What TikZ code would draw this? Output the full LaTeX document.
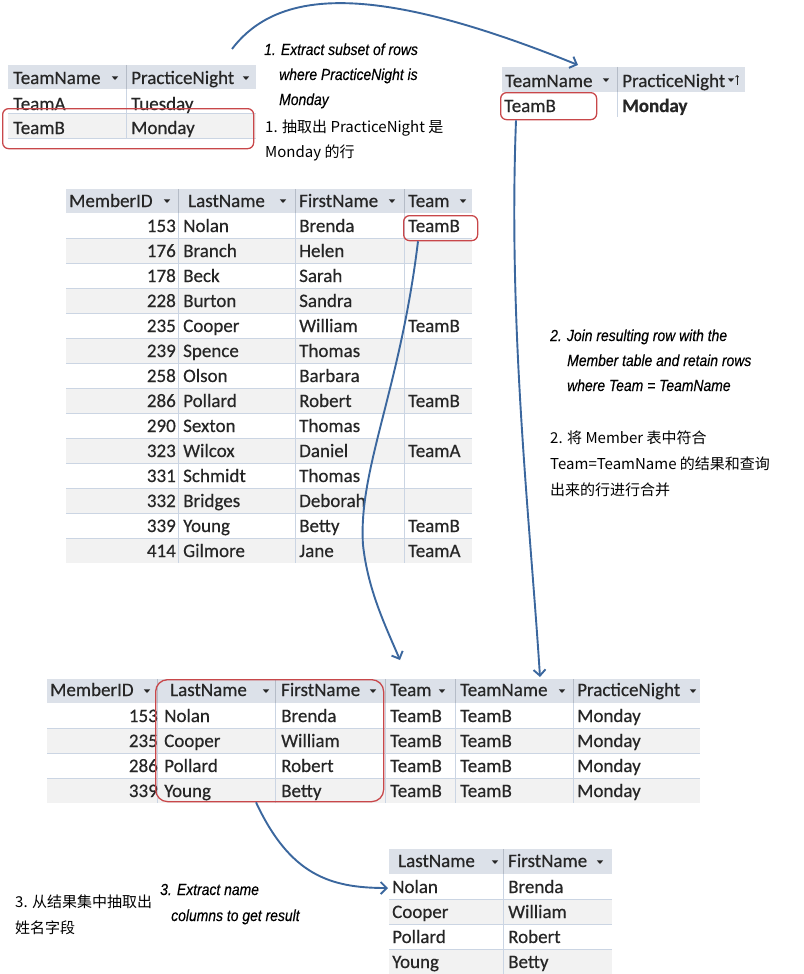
\documentclass[tikz,border=0pt]{standalone}
\usepackage{fontspec}
\setmainfont{Carlito}
\newfontfamily\tabfont[FakeBold=0.45]{Carlito}
\newfontfamily\labfont[FakeStretch=0.87,FakeBold=0.3]{Liberation Sans}
\newfontfamily\cjk{Noto Sans CJK SC}
\usetikzlibrary{arrows.meta}
\definecolor{hdr}{HTML}{DCE1E9}
\definecolor{stripe}{HTML}{F2F2F2}
\definecolor{gridc}{HTML}{CBD5E3}
\definecolor{hsep}{HTML}{B5BCC7}
\definecolor{redc}{HTML}{C8474A}
\definecolor{arrc}{HTML}{3B679E}
\definecolor{txt}{HTML}{262626}
\newcommand\dropmark[2]{\fill[txt] ({#1-3.2},{#2-1.6}) -- ({#1+3.2},{#2-1.6}) -- (#1,{#2+2}) -- cycle;}
\begin{document}
\begin{tikzpicture}[x=1pt,y=-1pt,
  cell/.style={anchor=base west, inner sep=0pt, font=\tabfont\fontsize{19}{22}\selectfont, text=txt},
  numcell/.style={cell, anchor=base east},
  lab/.style={anchor=base west, inner sep=0pt, font=\labfont\itshape\fontsize{16}{19}\selectfont, text=black},
  cjklab/.style={anchor=base west, inner sep=0pt, font=\cjk\fontsize{15}{18}\selectfont, text=black},
  redbox/.style={draw=redc, line width=1.3pt, rounded corners=6pt, inner sep=0pt, anchor=north west},
  arr/.style={draw=arrc, line width=1.9pt, -{Straight Barb[length=6pt,width=12pt]}},
  gl/.style={draw=gridc, line width=1pt},
  hl/.style={draw=hsep, line width=1pt}]
\useasboundingbox (0,0) rectangle (803,974);

% ---------- Table 1 (Team) ----------
\fill[hdr] (8,65) rectangle (256,89);
\fill[stripe] (8,113) rectangle (256,138);
\draw[gl] (8,113) -- (256,113);
\draw[gl] (8,138) -- (256,138);
\draw[gl] (126,89) -- (126,138);
\draw[hl] (126,65) -- (126,89);
\node[cell] (t1h1) at (13,84) {TeamName};
\node[cell] (t1h2) at (131,84) {PracticeNight};
\dropmark{115}{78}
\dropmark{246}{78}
\node[cell] (t1a1) at (13,110) {TeamA};
\node[cell] (t1b1) at (131,110) {Tuesday};
\node[cell] (t1a2) at (13,134) {TeamB};
\node[cell] (t1b2) at (131,134) {Monday};

% ---------- Table 2 (filtered) ----------
\fill[hdr] (502,67) rectangle (745,92);
\draw[hl] (617,67) -- (617,92);
\draw[gl] (617,92) -- (617,117);
\node[cell] (t2h1) at (505,87) {TeamName};
\node[cell] (t2h2) at (622,87) {PracticeNight};
\dropmark{606}{80}
\dropmark{731}{80}
\draw[txt, line width=0.8pt, -{Straight Barb[length=1.5pt,width=3pt]}] (737,85) -- (737,75);
\node[cell] (t2a1) at (504,112) {TeamB};
\node[cell, font=\tabfont\bfseries\fontsize{19}{22}\selectfont] (t2b1) at (622,112) {Monday};

% ---------- Table 3 (Member) ----------
\fill[hdr] (66,189) rectangle (472,213);
\foreach \i in {2,4,...,14} \fill[stripe] (66,{188+25*\i}) rectangle (472,{213+25*\i});
\foreach \k in {1,...,13} \draw[gl] (66,{213+25*\k}) -- (472,{213+25*\k});
\foreach \x in {178,295,404} {\draw[gl] (\x,213) -- (\x,563); \draw[hl] (\x,189) -- (\x,213);}
\node[cell] (t3h1) at (69,207) {MemberID};
\node[cell] (t3h2) at (188,207) {LastName};
\node[cell] (t3h3) at (299,207) {FirstName};
\node[cell] (t3h4) at (408,207) {Team};
\dropmark{167}{201}
\dropmark{283}{201}
\dropmark{392}{201}
\dropmark{463}{201}
\foreach \id/\ln/\fn/\tm [count=\i] in {153/Nolan/Brenda/TeamB, 176/Branch/Helen/{}, 178/Beck/Sarah/{}, 228/Burton/Sandra/{}, 235/Cooper/William/TeamB, 239/Spence/Thomas/{}, 258/Olson/Barbara/{}, 286/Pollard/Robert/TeamB, 290/Sexton/Thomas/{}, 323/Wilcox/Daniel/TeamA, 331/Schmidt/Thomas/{}, 332/Bridges/Deborah/{}, 339/Young/Betty/TeamB, 414/Gilmore/Jane/TeamA} {
  \pgfmathsetmacro\yb{207+25*\i}
  \node[numcell] (t3-\i-a) at (176,\yb) {\id};
  \node[cell] (t3-\i-b) at (183,\yb) {\ln};
  \node[cell] (t3-\i-c) at (299,\yb) {\fn};
  \node[cell] (t3-\i-d) at (408,\yb) {\tm};
}

% ---------- Table 4 (joined) ----------
\fill[hdr] (47,679) rectangle (700,703);
\foreach \i in {2,4} \fill[stripe] (47,{678+25*\i}) rectangle (700,{703+25*\i});
\foreach \k in {1,2,3} \draw[gl] (47,{703+25*\k}) -- (700,{703+25*\k});
\foreach \x in {157,275,385,455,573} {\draw[gl] (\x,703) -- (\x,803); \draw[hl] (\x,679) -- (\x,703);}
\node[cell] (t4h1) at (50,696) {MemberID};
\node[cell] (t4h2) at (170,696) {LastName};
\node[cell] (t4h3) at (281,696) {FirstName};
\node[cell] (t4h4) at (390,696) {Team};
\node[cell] (t4h5) at (460,696) {TeamName};
\node[cell] (t4h6) at (577,696) {PracticeNight};
\dropmark{147}{691}
\dropmark{266}{691}
\dropmark{373}{691}
\dropmark{442}{691}
\dropmark{562}{691}
\dropmark{693}{691}
\foreach \id/\ln/\fn [count=\i] in {153/Nolan/Brenda, 235/Cooper/William, 286/Pollard/Robert, 339/Young/Betty} {
  \pgfmathsetmacro\yb{697+25*\i}
  \node[numcell] (t4-\i-a) at (158,\yb) {\id};
  \node[cell] (t4-\i-b) at (164,\yb) {\ln};
  \node[cell] (t4-\i-c) at (281,\yb) {\fn};
  \node[cell] (t4-\i-d) at (390,\yb) {TeamB};
  \node[cell] (t4-\i-e) at (460,\yb) {TeamB};
  \node[cell] (t4-\i-f) at (577,\yb) {Monday};
}

% ---------- Table 5 (result) ----------
\fill[hdr] (389,849) rectangle (612,874);
\foreach \i in {2,4} \fill[stripe] (389,{849+25*\i}) rectangle (612,{874+25*\i});
\foreach \k in {1,2,3} \draw[gl] (389,{874+25*\k}) -- (612,{874+25*\k});
\draw[gl] (503,874) -- (503,974);
\draw[hl] (503,849) -- (503,874);
\node[cell] (t5h1) at (398,867) {LastName};
\node[cell] (t5h2) at (508,867) {FirstName};
\dropmark{495}{862}
\dropmark{600}{862}
\foreach \ln/\fn [count=\i] in {Nolan/Brenda, Cooper/William, Pollard/Robert, Young/Betty} {
  \pgfmathsetmacro\yb{868+25*\i}
  \node[cell] (t5-\i-a) at (392,\yb) {\ln};
  \node[cell] (t5-\i-b) at (508,\yb) {\fn};
}

% ---------- Red highlight boxes ----------
\node[redbox, minimum width=251pt, minimum height=40pt] (rb1) at (2,108) {};
\node[redbox, minimum width=96pt, minimum height=27pt] (rb2) at (500,92) {};
\node[redbox, minimum width=74pt, minimum height=25pt] (rb3) at (403,215) {};
\node[redbox, minimum width=228pt, minimum height=122pt, rounded corners=12pt] (rb4) at (155,679) {};

% ---------- Arrows ----------
\coordinate (a1s) at (232,49);
\coordinate (a1e) at (578,65);
\draw[arr] (a1s) .. controls (280,-14) and (380,-15) .. (a1e);

\coordinate (a2e) at (540,677);
\draw[arr] ([xshift=16pt]rb2.south west) .. controls (508,330) and (530,520) .. (a2e);

\coordinate (a3m) at (363,545);
\coordinate (a3e) at (400,660);
\draw[arr] ([xshift=15pt]rb3.south west) .. controls (400,390) and (358,470) .. (a3m) .. controls (368,590) and (385,625) .. (a3e);

\coordinate (a4e) at (388,888);
\draw[arr] ([xshift=101pt]rb4.south west) .. controls (290,875) and (330,888) .. (a4e);

% ---------- Labels ----------
\node[lab] (l1a) at (264,55) {1. Extract subset of rows};
\node[lab] (l1b) at (279,80) {where PracticeNight is};
\node[lab] (l1c) at (279,105) {Monday};
\node[cjklab] (c1a) at (265,132) {1. 抽取出 PracticeNight 是};
\node[cjklab] (c1b) at (265,157) {Monday 的行};

\node[lab] (l2a) at (550,341) {2. Join resulting row with the};
\node[lab] (l2b) at (567,366) {Member table and retain rows};
\node[lab] (l2c) at (567,391) {where Team = TeamName};
\node[cjklab] (c2a) at (550,443) {2. 将 Member 表中符合};
\node[cjklab] (c2b) at (550,469) {Team=TeamName 的结果和查询};
\node[cjklab] (c2c) at (550,495) {出来的行进行合并};

\node[cjklab] (c3a) at (15,907) {3. 从结果集中抽取出};
\node[cjklab] (c3b) at (15,933) {姓名字段};
\node[lab] (l3a) at (160,895) {3. Extract name};
\node[lab] (l3b) at (171,921) {columns to get result};
\end{tikzpicture}
\end{document}
